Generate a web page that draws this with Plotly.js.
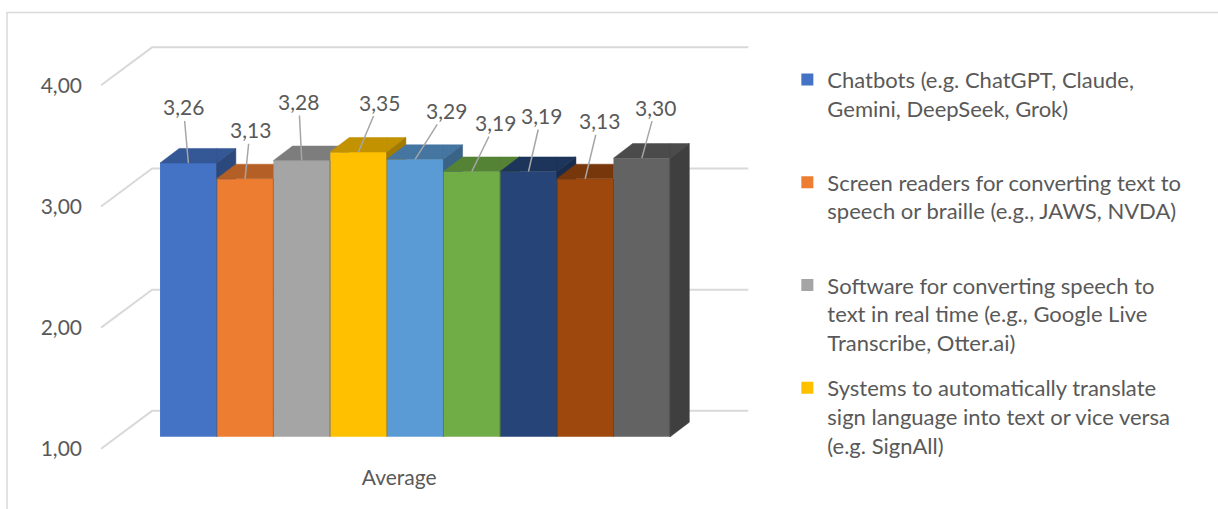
<!DOCTYPE html>
<html>
<head>
<meta charset="utf-8">
<script src="https://cdn.plot.ly/plotly-3.0.1.min.js"></script>
<style>
  html, body { margin: 0; padding: 0; background: #ffffff; }
  #chart { width: 1218px; height: 509px; }
</style>
</head>
<body>
<div id="chart"></div>
<script>
// ---- data -------------------------------------------------------------
const categories = ['Average'];

const seriesNames = [
  'Chatbots (e.g. ChatGPT, Claude,<br>Gemini, DeepSeek, Grok)',
  'Screen readers for converting text to<br>speech or braille (e.g., JAWS, NVDA)',
  'Software for converting speech to<br>text in real time (e.g., Google Live<br>Transcribe, Otter.ai)',
  'Systems to automatically translate<br>sign language into text or vice versa<br>(e.g. SignAll)',
  '', '', '', '', ''
];

// one value per category for every series
const chatbots        = [3.26];
const screenReaders   = [3.13];
const speechToText    = [3.28];
const signTranslation = [3.35];
const series5         = [3.29];
const series6         = [3.19];
const series7         = [3.19];
const series8         = [3.13];
const series9         = [3.30];
const seriesValues = [chatbots, screenReaders, speechToText, signTranslation,
                      series5, series6, series7, series8, series9];

const seriesColors = ['#4472C4', '#ED7D31', '#A5A5A5', '#FFC000', '#5B9BD5',
                      '#70AD47', '#264478', '#9E480E', '#636363'];

const yTicks = [1, 2, 3, 4];
const yTickLabels = ['1,00', '2,00', '3,00', '4,00'];

// pixel nudges of the value labels (text centre relative to the bar top)
const labelNudge = [[-5, -56], [5, -49], [-3, -59], [21, -50], [31, -49],
                    [24, -49], [13, -56], [14, -58], [14, -51]];

// ---- geometry of the oblique 3-D look (axis units) ----------------------
const GAP = 0.2;                       // bargap
const N = seriesValues.length;
const SLOT = (1 - GAP) / N;            // width of one bar
const FLOOR = 1;                       // bars stand on the 1,00 level
const DX = 0.030, DY = 0.12;           // depth of a bar
const FRONT = { x: -0.025, y: -0.099 };// floor front edge vs bar front plane
const BACK  = { x: 0.055,  y: 0.2145 };// back wall vs bar front plane
const WALL_HALF = 0.4675;              // half width of the floor
const BAR_RANGE = [0.85, 4.275];       // value range in the bar plane
const FRONT_RANGE = [BAR_RANGE[0] - FRONT.y, BAR_RANGE[1] - FRONT.y];
const X_RANGE = [-0.502, 0.533];

const FONT = 'Lato, "Open Sans", sans-serif';
const TEXT = '#595959';
const GRID = '#D9D9D9';

function shade(hex, f) {
  const n = parseInt(hex.slice(1), 16);
  const c = [(n >> 16) & 255, (n >> 8) & 255, n & 255].map(v => Math.round(v * f));
  return 'rgb(' + c.join(',') + ')';
}

// Sutherland-Hodgman clip against an axis-aligned half plane
function clip(poly, axis, c, keepAbove) {
  const out = [];
  for (let i = 0; i < poly.length; i++) {
    const a = poly[i], b = poly[(i + 1) % poly.length];
    const ina = keepAbove ? a[axis] >= c : a[axis] <= c;
    const inb = keepAbove ? b[axis] >= c : b[axis] <= c;
    if (ina) out.push(a);
    if (ina !== inb) {
      const t = (c - a[axis]) / (b[axis] - a[axis]);
      out.push([a[0] + t * (b[0] - a[0]), a[1] + t * (b[1] - a[1])]);
    }
  }
  return out;
}

// part of a face that is not hidden behind the next bar's front face
function visible(poly, xEdge, nextTop) {
  const left = clip(poly, 0, xEdge, false);
  const right = clip(clip(poly, 0, xEdge, true), 1, nextTop, true);
  return [left, right].filter(p => p.length > 2);
}

function toXY(polys) {
  const x = [], y = [];
  polys.forEach(p => {
    p.concat([p[0]]).forEach(pt => { x.push(pt[0]); y.push(pt[1]); });
    x.push(null); y.push(null);
  });
  return { x, y };
}

const catPos = categories.map((_, k) => k);
const traces = [];
const annotations = [];

// back wall and left wall gridlines (front-plane value axis)
const gx = [], gy = [];
yTicks.forEach(t => {
  gx.push(-WALL_HALF + FRONT.x, -WALL_HALF + BACK.x, WALL_HALF + BACK.x, null);
  const back = t + BACK.y - FRONT.y;
  gy.push(t, back, back, null);
});
traces.push({
  type: 'scatter', mode: 'lines', x: gx, y: gy, xaxis: 'x', yaxis: 'y',
  line: { color: GRID, width: 2 }, hoverinfo: 'skip', showlegend: false
});

// front faces
seriesValues.forEach((vals, j) => {
  let name = seriesNames[j];
  // keep the two-line entries as tall as the three-line ones
  if (name && name.split('<br>').length < 3) name += '<br>\u00a0';
  traces.push({
    type: 'bar', x: catPos, y: vals.map(v => v - FLOOR), base: FLOOR,
    xaxis: 'x', yaxis: 'y2',
    name: name, showlegend: name !== '',
    legendgroup: 'g' + j,
    marker: { color: seriesColors[j], line: { width: 0 } },
    hoverinfo: 'skip'
  });
});

// top and side faces, painted left to right
catPos.forEach((c, k) => {
  seriesValues.forEach((vals, j) => {
    const v = vals[k];
    const xl = c - (1 - GAP) / 2 + j * SLOT;
    const xr = xl + SLOT;
    const next = j + 1 < N ? seriesValues[j + 1][k] : -Infinity;

    const top = [[xl, v], [xr, v], [xr + DX, v + DY], [xl + DX, v + DY]];
    const side = [[xr, FLOOR], [xr + DX, FLOOR + DY], [xr + DX, v + DY], [xr, v]];

    [[top, 0.76], [side, 0.64]].forEach(([face, f]) => {
      const xy = toXY(visible(face, xr, next));
      if (!xy.x.length) return;
      const col = shade(seriesColors[j], f);
      traces.push({
        type: 'scatter', mode: 'lines', x: xy.x, y: xy.y, xaxis: 'x', yaxis: 'y2',
        fill: 'toself', fillcolor: col, line: { color: col, width: 0.5 },
        hoverinfo: 'skip', showlegend: false
      });
    });

    annotations.push({
      x: xl + SLOT / 2, y: v, xref: 'x', yref: 'y2',
      text: v.toFixed(2).replace('.', ','),
      showarrow: true, arrowhead: 0, arrowwidth: 1.5, arrowcolor: '#A6A6A6',
      standoff: 0, ax: labelNudge[j][0], ay: labelNudge[j][1],
      font: { family: FONT, size: 21, color: TEXT }
    });
  });
});

const layout = {
  width: 1218, height: 509,
  margin: { l: 95, r: 463, t: 40, b: 54 },
  paper_bgcolor: '#ffffff', plot_bgcolor: 'rgba(0,0,0,0)',
  font: { family: FONT, size: 21, color: TEXT },
  barmode: 'group', bargap: GAP, bargroupgap: 0,
  showlegend: true,
  legend: {
    x: 1.049, xanchor: 'left', y: 0.955, yanchor: 'top',
    font: { family: FONT, size: 22, color: TEXT },
    valign: 'top', tracegroupgap: 14, traceorder: 'grouped',
    bgcolor: 'rgba(0,0,0,0)', borderwidth: 0
  },
  xaxis: {
    range: X_RANGE, tickvals: catPos.map(c => c + FRONT.x), ticktext: categories,
    showgrid: false, zeroline: false, showline: false, ticks: '',
    ticklabelstandoff: 8, tickfont: { family: FONT, size: 21, color: TEXT }
  },
  yaxis: {
    range: FRONT_RANGE, tickvals: yTicks, ticktext: yTickLabels,
    showgrid: false, zeroline: false, showline: false, ticks: '',
    ticklabelstandoff: 12, tickfont: { family: FONT, size: 21, color: TEXT }
  },
  yaxis2: {
    range: BAR_RANGE, overlaying: 'y', visible: false,
    showgrid: false, zeroline: false
  },
  annotations: annotations,
  shapes: [{
    type: 'rect', xref: 'paper', yref: 'paper', layer: 'below',
    x0: (7 - 95) / 660, x1: (1240 - 95) / 660,
    y0: (455 - 530) / 415, y1: (455 - 12.5) / 415,
    line: { color: GRID, width: 1.5 }, fillcolor: 'rgba(0,0,0,0)'
  }]
};

Plotly.newPlot('chart', traces, layout, { displayModeBar: false, staticPlot: true });
</script>
</body>
</html>
